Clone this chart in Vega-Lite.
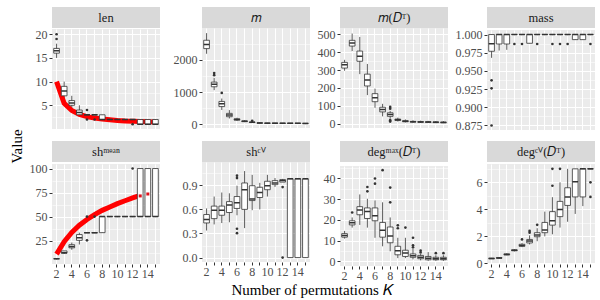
{
"$schema": "https://vega.github.io/schema/vega-lite/v6.json",
"padding": {"left": 10, "top": 7, "right": 2, "bottom": 2},
"background": "white",
"config": {
  "view": {"fill": "#EBEBEB", "stroke": null},
  "axis": {"labelFont": "Liberation Serif", "labelFontSize": 12, "labelColor": "#4D4D4D", "tickColor": "#333333", "tickSize": 3, "domain": false, "gridColor": "#FFFFFF", "labelPadding": 2, "labelOverlap": false},
  "title": {"font": "Liberation Serif", "fontSize": 15, "fontWeight": "normal", "color": "#000000", "anchor": "middle"}
},
"datasets": {
  "box": [
    {"p":"len","K":2,"lo":15,"q1":16,"md":16.5,"q3":17,"hi":18},
    {"p":"len","K":3,"lo":6,"q1":7,"md":8,"q3":9,"hi":10},
    {"p":"len","K":4,"lo":4,"q1":5,"md":5.5,"q3":6,"hi":7},
    {"p":"len","K":5,"lo":3,"q1":3,"md":3.5,"q3":4,"hi":5},
    {"p":"len","K":6,"lo":3,"q1":3,"md":3,"q3":3,"hi":3},
    {"p":"len","K":7,"lo":3,"q1":3,"md":3,"q3":3,"hi":3},
    {"p":"len","K":8,"lo":2,"q1":2,"md":2,"q3":3,"hi":3},
    {"p":"len","K":9,"lo":2,"q1":2,"md":2,"q3":2,"hi":2},
    {"p":"len","K":10,"lo":2,"q1":2,"md":2,"q3":2,"hi":2},
    {"p":"len","K":11,"lo":2,"q1":2,"md":2,"q3":2,"hi":2},
    {"p":"len","K":12,"lo":2,"q1":2,"md":2,"q3":2,"hi":2},
    {"p":"len","K":13,"lo":1,"q1":1,"md":1,"q3":2,"hi":2},
    {"p":"len","K":14,"lo":1,"q1":1,"md":1,"q3":2,"hi":2},
    {"p":"len","K":15,"lo":1,"q1":1,"md":1,"q3":2,"hi":2},

    {"p":"m","K":2,"lo":2190,"q1":2350,"md":2475,"q3":2610,"hi":2830},
    {"p":"m","K":3,"lo":1060,"q1":1165,"md":1240,"q3":1310,"hi":1440},
    {"p":"m","K":4,"lo":445,"q1":550,"md":635,"q3":710,"hi":800},
    {"p":"m","K":5,"lo":180,"q1":235,"md":285,"q3":340,"hi":440},
    {"p":"m","K":6,"lo":105,"q1":130,"md":150,"q3":170,"hi":205},
    {"p":"m","K":7,"lo":65,"q1":82,"md":95,"q3":105,"hi":128},
    {"p":"m","K":8,"lo":42,"q1":55,"md":62,"q3":70,"hi":88},
    {"p":"m","K":9,"lo":30,"q1":36,"md":40,"q3":44,"hi":52},
    {"p":"m","K":10,"lo":26,"q1":31,"md":35,"q3":38,"hi":45},
    {"p":"m","K":11,"lo":24,"q1":29,"md":33,"q3":36,"hi":42},
    {"p":"m","K":12,"lo":22,"q1":28,"md":31,"q3":34,"hi":40},
    {"p":"m","K":13,"lo":21,"q1":27,"md":30,"q3":33,"hi":38},
    {"p":"m","K":14,"lo":20,"q1":26,"md":29,"q3":32,"hi":37},
    {"p":"m","K":15,"lo":20,"q1":25,"md":28,"q3":31,"hi":36},

    {"p":"mdt","K":2,"lo":296,"q1":311,"md":330,"q3":343,"hi":357},
    {"p":"mdt","K":3,"lo":406,"q1":434,"md":451,"q3":466,"hi":504},
    {"p":"mdt","K":4,"lo":277,"q1":349,"md":377,"q3":406,"hi":485},
    {"p":"mdt","K":5,"lo":160,"q1":211,"md":245,"q3":277,"hi":334},
    {"p":"mdt","K":6,"lo":89,"q1":123,"md":145,"q3":168,"hi":196},
    {"p":"mdt","K":7,"lo":41,"q1":66,"md":79,"q3":92,"hi":111},
    {"p":"mdt","K":8,"lo":28,"q1":41,"md":51,"q3":61,"hi":72},
    {"p":"mdt","K":9,"lo":12,"q1":18,"md":22,"q3":26,"hi":34},
    {"p":"mdt","K":10,"lo":7,"q1":11,"md":14,"q3":17,"hi":24},
    {"p":"mdt","K":11,"lo":5,"q1":9,"md":11,"q3":13,"hi":19},
    {"p":"mdt","K":12,"lo":4,"q1":8,"md":10,"q3":12,"hi":17},
    {"p":"mdt","K":13,"lo":4,"q1":7,"md":9,"q3":11,"hi":16},
    {"p":"mdt","K":14,"lo":3,"q1":6,"md":8,"q3":10,"hi":15},
    {"p":"mdt","K":15,"lo":3,"q1":6,"md":7,"q3":9,"hi":14},

    {"p":"mass","K":2,"lo":0.968,"q1":0.977,"md":0.9875,"q3":1.0,"hi":1.0},
    {"p":"mass","K":3,"lo":0.978,"q1":0.987,"md":1.0,"q3":1.0,"hi":1.0},
    {"p":"mass","K":4,"lo":0.979,"q1":0.987,"md":1.0,"q3":1.0,"hi":1.0},
    {"p":"mass","K":5,"lo":1.0,"q1":1.0,"md":1.0,"q3":1.0,"hi":1.0},
    {"p":"mass","K":6,"lo":1.0,"q1":1.0,"md":1.0,"q3":1.0,"hi":1.0},
    {"p":"mass","K":7,"lo":0.988,"q1":0.988,"md":1.0,"q3":1.0,"hi":1.0},
    {"p":"mass","K":8,"lo":1.0,"q1":1.0,"md":1.0,"q3":1.0,"hi":1.0},
    {"p":"mass","K":9,"lo":1.0,"q1":1.0,"md":1.0,"q3":1.0,"hi":1.0},
    {"p":"mass","K":10,"lo":1.0,"q1":1.0,"md":1.0,"q3":1.0,"hi":1.0},
    {"p":"mass","K":11,"lo":1.0,"q1":1.0,"md":1.0,"q3":1.0,"hi":1.0},
    {"p":"mass","K":12,"lo":1.0,"q1":1.0,"md":1.0,"q3":1.0,"hi":1.0},
    {"p":"mass","K":13,"lo":0.993,"q1":0.993,"md":1.0,"q3":1.0,"hi":1.0},
    {"p":"mass","K":14,"lo":0.993,"q1":0.993,"md":1.0,"q3":1.0,"hi":1.0},
    {"p":"mass","K":15,"lo":1.0,"q1":1.0,"md":1.0,"q3":1.0,"hi":1.0},

    {"p":"shmean","K":2,"lo":5.4,"q1":6.25,"md":6.25,"q3":6.25,"hi":6.25},
    {"p":"shmean","K":3,"lo":11.1,"q1":11.9,"md":12.5,"q3":14.3,"hi":14.3},
    {"p":"shmean","K":4,"lo":15.5,"q1":17.5,"md":19,"q3":20.8,"hi":23},
    {"p":"shmean","K":5,"lo":21,"q1":25.3,"md":28,"q3":31.3,"hi":33.3},
    {"p":"shmean","K":6,"lo":33.3,"q1":33.3,"md":33.3,"q3":33.3,"hi":33.3},
    {"p":"shmean","K":7,"lo":33.3,"q1":33.3,"md":33.3,"q3":33.3,"hi":33.3},
    {"p":"shmean","K":8,"lo":33.3,"q1":33.3,"md":50,"q3":50,"hi":50},
    {"p":"shmean","K":9,"lo":50,"q1":50,"md":50,"q3":50,"hi":50},
    {"p":"shmean","K":10,"lo":50,"q1":50,"md":50,"q3":50,"hi":50},
    {"p":"shmean","K":11,"lo":50,"q1":50,"md":50,"q3":50,"hi":50},
    {"p":"shmean","K":12,"lo":50,"q1":50,"md":50,"q3":50,"hi":50},
    {"p":"shmean","K":13,"lo":50,"q1":50,"md":50,"q3":100,"hi":100},
    {"p":"shmean","K":14,"lo":50,"q1":50,"md":50,"q3":100,"hi":100},
    {"p":"shmean","K":15,"lo":50,"q1":50,"md":50,"q3":100,"hi":100},

    {"p":"shcv","K":2,"lo":0.337,"q1":0.431,"md":0.473,"q3":0.536,"hi":0.612},
    {"p":"shcv","K":3,"lo":0.413,"q1":0.485,"md":0.59,"q3":0.641,"hi":0.76},
    {"p":"shcv","K":4,"lo":0.43,"q1":0.527,"md":0.59,"q3":0.641,"hi":0.81},
    {"p":"shcv","K":5,"lo":0.44,"q1":0.561,"md":0.654,"q3":0.697,"hi":0.8},
    {"p":"shcv","K":6,"lo":0.527,"q1":0.612,"md":0.684,"q3":0.76,"hi":0.895},
    {"p":"shcv","K":7,"lo":0.367,"q1":0.6,"md":0.844,"q3":0.929,"hi":1.077},
    {"p":"shcv","K":8,"lo":0.59,"q1":0.71,"md":0.73,"q3":0.895,"hi":1.03},
    {"p":"shcv","K":9,"lo":0.6,"q1":0.748,"md":0.81,"q3":0.875,"hi":0.93},
    {"p":"shcv","K":10,"lo":0.76,"q1":0.845,"md":0.895,"q3":0.95,"hi":1.03},
    {"p":"shcv","K":11,"lo":0.88,"q1":0.908,"md":0.93,"q3":0.958,"hi":0.99},
    {"p":"shcv","K":12,"lo":0.94,"q1":0.94,"md":0.96,"q3":0.97,"hi":0.98},
    {"p":"shcv","K":13,"lo":0,"q1":0,"md":0.98,"q3":0.98,"hi":0.98},
    {"p":"shcv","K":14,"lo":0,"q1":0,"md":0.98,"q3":0.98,"hi":0.98},
    {"p":"shcv","K":15,"lo":0,"q1":0,"md":0.98,"q3":0.98,"hi":0.98},

    {"p":"degmax","K":2,"lo":11,"q1":11.7,"md":12.5,"q3":13.4,"hi":14.7},
    {"p":"degmax","K":3,"lo":16.3,"q1":17.6,"md":18.6,"q3":19.6,"hi":21.2},
    {"p":"degmax","K":4,"lo":17.6,"q1":22.5,"md":24.8,"q3":26.4,"hi":32.3},
    {"p":"degmax","K":5,"lo":16.3,"q1":20.7,"md":24.1,"q3":25.8,"hi":30.2},
    {"p":"degmax","K":6,"lo":11.4,"q1":19.6,"md":22,"q3":25.8,"hi":29.4},
    {"p":"degmax","K":7,"lo":7.3,"q1":11.7,"md":15,"q3":18.8,"hi":28.5},
    {"p":"degmax","K":8,"lo":4.9,"q1":9,"md":12.2,"q3":16.6,"hi":21.2},
    {"p":"degmax","K":9,"lo":1.6,"q1":3.2,"md":5.2,"q3":7.3,"hi":11.4},
    {"p":"degmax","K":10,"lo":1.6,"q1":2.4,"md":4.1,"q3":5.4,"hi":11.4},
    {"p":"degmax","K":11,"lo":1,"q1":2,"md":2.8,"q3":3.6,"hi":6},
    {"p":"degmax","K":12,"lo":0.5,"q1":1.3,"md":2,"q3":2.9,"hi":3.6},
    {"p":"degmax","K":13,"lo":0.3,"q1":0.8,"md":1.5,"q3":2.4,"hi":4.5},
    {"p":"degmax","K":14,"lo":0.3,"q1":0.8,"md":1.3,"q3":2,"hi":3},
    {"p":"degmax","K":15,"lo":0.3,"q1":0.8,"md":1.3,"q3":2,"hi":3},

    {"p":"degcv","K":2,"lo":0.33,"q1":0.34,"md":0.36,"q3":0.38,"hi":0.4},
    {"p":"degcv","K":3,"lo":0.37,"q1":0.38,"md":0.4,"q3":0.42,"hi":0.44},
    {"p":"degcv","K":4,"lo":0.6,"q1":0.63,"md":0.66,"q3":0.7,"hi":0.74},
    {"p":"degcv","K":5,"lo":0.88,"q1":0.93,"md":0.96,"q3":1.0,"hi":1.05},
    {"p":"degcv","K":6,"lo":1.2,"q1":1.26,"md":1.33,"q3":1.41,"hi":1.5},
    {"p":"degcv","K":7,"lo":1.4,"q1":1.51,"md":1.65,"q3":1.77,"hi":2.07},
    {"p":"degcv","K":8,"lo":1.64,"q1":1.97,"md":2.1,"q3":2.27,"hi":2.6},
    {"p":"degcv","K":9,"lo":2.0,"q1":2.27,"md":2.47,"q3":3.03,"hi":3.83},
    {"p":"degcv","K":10,"lo":2.15,"q1":2.83,"md":3.15,"q3":3.83,"hi":4.9},
    {"p":"degcv","K":11,"lo":2.65,"q1":3.46,"md":3.99,"q3":4.59,"hi":6.0},
    {"p":"degcv","K":12,"lo":3.08,"q1":4.29,"md":4.92,"q3":5.6,"hi":7.0},
    {"p":"degcv","K":13,"lo":3.66,"q1":4.92,"md":6.05,"q3":7.0,"hi":7.0},
    {"p":"degcv","K":14,"lo":4.24,"q1":4.92,"md":7.0,"q3":7.0,"hi":7.0},
    {"p":"degcv","K":15,"lo":7.0,"q1":7.0,"md":7.0,"q3":7.0,"hi":7.0}
  ],
  "out": [
    {"p":"len","K":2,"v":19},{"p":"len","K":2,"v":20},{"p":"len","K":6,"v":4},{"p":"len","K":6,"v":2},{"p":"len","K":7,"v":2},{"p":"len","K":12,"v":1},
    {"p":"m","K":3,"v":1525},{"p":"m","K":3,"v":1590},{"p":"m","K":4,"v":975},{"p":"m","K":8,"v":108},
    {"p":"mdt","K":8,"v":94},{"p":"mdt","K":8,"v":84},{"p":"mdt","K":8,"v":20},{"p":"mdt","K":8,"v":12},
    {"p":"mass","K":2,"v":0.937},{"p":"mass","K":2,"v":0.926},{"p":"mass","K":2,"v":0.875},{"p":"mass","K":5,"v":0.987},{"p":"mass","K":6,"v":0.987},{"p":"mass","K":8,"v":0.987},{"p":"mass","K":10,"v":0.987},{"p":"mass","K":11,"v":0.987},{"p":"mass","K":12,"v":0.987},{"p":"mass","K":15,"v":0.987},
    {"p":"shmean","K":6,"v":50},{"p":"shmean","K":6,"v":25.3},{"p":"shmean","K":7,"v":50},{"p":"shmean","K":12,"v":100},
    {"p":"shcv","K":6,"v":1.02},{"p":"shcv","K":6,"v":0.99},{"p":"shcv","K":6,"v":0.359},{"p":"shcv","K":6,"v":0.304},{"p":"shcv","K":12,"v":0.878},{"p":"shcv","K":12,"v":0.0},
    {"p":"degmax","K":3,"v":23.6},{"p":"degmax","K":5,"v":35.9},{"p":"degmax","K":5,"v":33.8},{"p":"degmax","K":6,"v":40},{"p":"degmax","K":6,"v":37.5},{"p":"degmax","K":7,"v":44},{"p":"degmax","K":8,"v":35.6},{"p":"degmax","K":8,"v":28.5},{"p":"degmax","K":9,"v":17.4},{"p":"degmax","K":9,"v":16},{"p":"degmax","K":10,"v":16.3},{"p":"degmax","K":11,"v":11.4},{"p":"degmax","K":11,"v":7.8},{"p":"degmax","K":11,"v":6.8},{"p":"degmax","K":12,"v":5.2},{"p":"degmax","K":12,"v":4.3},{"p":"degmax","K":14,"v":4},{"p":"degmax","K":15,"v":4},
    {"p":"degcv","K":6,"v":1.77},{"p":"degcv","K":7,"v":2.27},{"p":"degcv","K":7,"v":2.4},{"p":"degcv","K":8,"v":2.85},{"p":"degcv","K":10,"v":5.75},{"p":"degcv","K":10,"v":7.0},{"p":"degcv","K":11,"v":7.0},{"p":"degcv","K":15,"v":6.0},{"p":"degcv","K":15,"v":4.92}
  ],
  "curve": [
    {"p":"len","K":2,"v":10},{"p":"len","K":3,"v":5.4},{"p":"len","K":4,"v":3.9},{"p":"len","K":5,"v":3.1},{"p":"len","K":6,"v":2.6},{"p":"len","K":7,"v":2.3},{"p":"len","K":8,"v":2.1},{"p":"len","K":9,"v":1.95},{"p":"len","K":10,"v":1.8},{"p":"len","K":11,"v":1.7},{"p":"len","K":12,"v":1.65},{"p":"len","K":13,"v":1.6},{"p":"len","K":14,"v":1.55},{"p":"len","K":15,"v":1.5},
    {"p":"shmean","K":2,"v":11},{"p":"shmean","K":3,"v":24},{"p":"shmean","K":4,"v":33.5},{"p":"shmean","K":5,"v":41},{"p":"shmean","K":6,"v":47},{"p":"shmean","K":7,"v":52},{"p":"shmean","K":8,"v":56.5},{"p":"shmean","K":9,"v":60},{"p":"shmean","K":10,"v":63.5},{"p":"shmean","K":11,"v":66.5},{"p":"shmean","K":12,"v":69.5},{"p":"shmean","K":13,"v":72}
  ],
  "bits": [
    {"p":"shmean","K":13,"v":71.5},{"p":"shmean","K":14,"v":73.5}
  ]
},
"title": {"text": "Value", "orient": "left", "offset": 4, "anchor": "middle", "dx": 6},
"vconcat": [{
  "title": {"text": "Number of permutations 𝐾", "orient": "bottom", "offset": 2, "anchor": "middle"},
  "columns": 4,
  "spacing": {"row": 9, "column": 7},
  "concat": [
    {"spacing": 0, "vconcat": [
      {"width":108,"height":21,"view":{"fill":"#D9D9D9","stroke":null},"data":{"values":[{"label":"len"}]},"mark":{"type":"text","font":"Liberation Serif","fontSize":12.5,"color":"#1A1A1A"},"encoding":{"text":{"field":"label"}}},
      {"width":108,"height":100,
       "encoding":{"x":{"field":"K","type":"ordinal","title":null,"scale":{"type":"band","domain":[2,3,4,5,6,7,8,9,10,11,12,13,14,15],"paddingInner":0,"paddingOuter":0.1},"axis":{"labels":false,"ticks":false,"grid":true,"gridWidth":1,"bandPosition":0.5}}},
       "layer":[
        {"data":{"name":"box"},"transform":[{"filter":"datum.p === 'len'"}],"mark":{"type":"rule","color":"#333333","strokeWidth":0.8},"encoding":{"y":{"field":"lo","type":"quantitative","title":null,"scale":{"domain":[0,21.1],"nice":false,"zero":false},"axis":{"tickCount":50,"labelOverlap":false,"format":"d","values":[2.5,5,7.5,10,12.5,15,17.5,20],"labelExpr":"abs(datum.value/5 - round(datum.value/5)) < 1e-6 ? datum.label : ''","gridWidth":{"condition":{"test":"abs(datum.value/5 - round(datum.value/5)) < 1e-6","value":1},"value":0.5},"tickOpacity":{"condition":{"test":"abs(datum.value/5 - round(datum.value/5)) < 1e-6","value":1},"value":0}}},"y2":{"field":"hi"}}},
        {"data":{"name":"curve"},"transform":[{"filter":"datum.p === 'len'"}],"mark":{"type":"line","color":"#FF0000","strokeWidth":5},"encoding":{"y":{"field":"v","type":"quantitative","title":null,"scale":{"domain":[0,21.1],"nice":false,"zero":false}}}},
        {"data":{"name":"box"},"transform":[{"filter":"datum.p === 'len'"}],"mark":{"type":"bar","fill":"#FFFFFF","stroke":"#333333","strokeWidth":0.8,"width":{"band":0.75}},"encoding":{"y":{"field":"q1","type":"quantitative","title":null,"scale":{"domain":[0,21.1],"nice":false,"zero":false}},"y2":{"field":"q3"}}},
        {"data":{"name":"box"},"transform":[{"filter":"datum.p === 'len'"}],"mark":{"type":"bar","fillOpacity":0,"stroke":"#333333","strokeWidth":1.5,"width":{"band":0.75}},"encoding":{"y":{"field":"md","type":"quantitative","title":null,"scale":{"domain":[0,21.1],"nice":false,"zero":false}},"y2":{"field":"md"}}},
        {"data":{"name":"out"},"transform":[{"filter":"datum.p === 'len'"}],"mark":{"type":"point","filled":true,"size":7,"color":"#333333","opacity":1},"encoding":{"y":{"field":"v","type":"quantitative","title":null,"scale":{"domain":[0,21.1],"nice":false,"zero":false}}}}
       ]}
    ]},
    {"spacing": 0, "vconcat": [
      {"width":108,"height":21,"view":{"fill":"#D9D9D9","stroke":null},"data":{"values":[{"label":"𝑚"}]},"mark":{"type":"text","font":"Liberation Serif","fontSize":12.5,"color":"#1A1A1A"},"encoding":{"text":{"field":"label"}}},
      {"width":108,"height":100,
       "encoding":{"x":{"field":"K","type":"ordinal","title":null,"scale":{"type":"band","domain":[2,3,4,5,6,7,8,9,10,11,12,13,14,15],"paddingInner":0,"paddingOuter":0.1},"axis":{"labels":false,"ticks":false,"grid":true,"gridWidth":1,"bandPosition":0.5}}},
       "layer":[
        {"data":{"name":"box"},"transform":[{"filter":"datum.p === 'm'"}],"mark":{"type":"rule","color":"#333333","strokeWidth":0.8},"encoding":{"y":{"field":"lo","type":"quantitative","title":null,"scale":{"domain":[-115,2990],"nice":false,"zero":false},"axis":{"tickCount":50,"labelOverlap":false,"values":[0,500,1000,1500,2000,2500],"format":"d","labelExpr":"abs(datum.value/1000 - round(datum.value/1000)) < 1e-6 ? datum.label : ''","gridWidth":{"condition":{"test":"abs(datum.value/1000 - round(datum.value/1000)) < 1e-6","value":1},"value":0.5},"tickOpacity":{"condition":{"test":"abs(datum.value/1000 - round(datum.value/1000)) < 1e-6","value":1},"value":0}}},"y2":{"field":"hi"}}},
        {"data":{"name":"box"},"transform":[{"filter":"datum.p === 'm'"}],"mark":{"type":"bar","fill":"#FFFFFF","stroke":"#333333","strokeWidth":0.8,"width":{"band":0.75}},"encoding":{"y":{"field":"q1","type":"quantitative","title":null,"scale":{"domain":[-115,2990],"nice":false,"zero":false}},"y2":{"field":"q3"}}},
        {"data":{"name":"box"},"transform":[{"filter":"datum.p === 'm'"}],"mark":{"type":"bar","fillOpacity":0,"stroke":"#333333","strokeWidth":1.5,"width":{"band":0.75}},"encoding":{"y":{"field":"md","type":"quantitative","title":null,"scale":{"domain":[-115,2990],"nice":false,"zero":false}},"y2":{"field":"md"}}},
        {"data":{"name":"out"},"transform":[{"filter":"datum.p === 'm'"}],"mark":{"type":"point","filled":true,"size":7,"color":"#333333","opacity":1},"encoding":{"y":{"field":"v","type":"quantitative","title":null,"scale":{"domain":[-115,2990],"nice":false,"zero":false}}}}
       ]}
    ]},
    {"spacing": 0, "vconcat": [
      {"width":108,"height":21,"view":{"fill":"#D9D9D9","stroke":null},"data":{"values":[{"label":"𝑚(𝐷ᵀ)"}]},"mark":{"type":"text","font":"Liberation Serif","fontSize":12.5,"color":"#1A1A1A"},"encoding":{"text":{"field":"label"}}},
      {"width":108,"height":100,
       "encoding":{"x":{"field":"K","type":"ordinal","title":null,"scale":{"type":"band","domain":[2,3,4,5,6,7,8,9,10,11,12,13,14,15],"paddingInner":0,"paddingOuter":0.1},"axis":{"labels":false,"ticks":false,"grid":true,"gridWidth":1,"bandPosition":0.5}}},
       "layer":[
        {"data":{"name":"box"},"transform":[{"filter":"datum.p === 'mdt'"}],"mark":{"type":"rule","color":"#333333","strokeWidth":0.8},"encoding":{"y":{"field":"lo","type":"quantitative","title":null,"scale":{"domain":[-24,535],"nice":false,"zero":false},"axis":{"tickCount":50,"labelOverlap":false,"values":[0,50,100,150,200,250,300,350,400,450,500],"format":"d","labelExpr":"abs(datum.value/100 - round(datum.value/100)) < 1e-6 ? datum.label : ''","gridWidth":{"condition":{"test":"abs(datum.value/100 - round(datum.value/100)) < 1e-6","value":1},"value":0.5},"tickOpacity":{"condition":{"test":"abs(datum.value/100 - round(datum.value/100)) < 1e-6","value":1},"value":0}}},"y2":{"field":"hi"}}},
        {"data":{"name":"box"},"transform":[{"filter":"datum.p === 'mdt'"}],"mark":{"type":"bar","fill":"#FFFFFF","stroke":"#333333","strokeWidth":0.8,"width":{"band":0.75}},"encoding":{"y":{"field":"q1","type":"quantitative","title":null,"scale":{"domain":[-24,535],"nice":false,"zero":false}},"y2":{"field":"q3"}}},
        {"data":{"name":"box"},"transform":[{"filter":"datum.p === 'mdt'"}],"mark":{"type":"bar","fillOpacity":0,"stroke":"#333333","strokeWidth":1.5,"width":{"band":0.75}},"encoding":{"y":{"field":"md","type":"quantitative","title":null,"scale":{"domain":[-24,535],"nice":false,"zero":false}},"y2":{"field":"md"}}},
        {"data":{"name":"out"},"transform":[{"filter":"datum.p === 'mdt'"}],"mark":{"type":"point","filled":true,"size":7,"color":"#333333","opacity":1},"encoding":{"y":{"field":"v","type":"quantitative","title":null,"scale":{"domain":[-24,535],"nice":false,"zero":false}}}}
       ]}
    ]},
    {"spacing": 0, "vconcat": [
      {"width":108,"height":21,"view":{"fill":"#D9D9D9","stroke":null},"data":{"values":[{"label":"mass"}]},"mark":{"type":"text","font":"Liberation Serif","fontSize":12.5,"color":"#1A1A1A"},"encoding":{"text":{"field":"label"}}},
      {"width":108,"height":100,
       "encoding":{"x":{"field":"K","type":"ordinal","title":null,"scale":{"type":"band","domain":[2,3,4,5,6,7,8,9,10,11,12,13,14,15],"paddingInner":0,"paddingOuter":0.1},"axis":{"labels":false,"ticks":false,"grid":true,"gridWidth":1,"bandPosition":0.5}}},
       "layer":[
        {"data":{"name":"box"},"transform":[{"filter":"datum.p === 'mass'"}],"mark":{"type":"rule","color":"#333333","strokeWidth":0.8},"encoding":{"y":{"field":"lo","type":"quantitative","title":null,"scale":{"domain":[0.86875,1.00625],"nice":false,"zero":false},"axis":{"tickCount":50,"labelOverlap":false,"values":[0.875,0.8875,0.9,0.9125,0.925,0.9375,0.95,0.9625,0.975,0.9875,1.0],"format":".3f","labelExpr":"abs(datum.value/0.025 - round(datum.value/0.025)) < 1e-6 ? datum.label : ''","gridWidth":{"condition":{"test":"abs(datum.value/0.025 - round(datum.value/0.025)) < 1e-6","value":1},"value":0.5},"tickOpacity":{"condition":{"test":"abs(datum.value/0.025 - round(datum.value/0.025)) < 1e-6","value":1},"value":0}}},"y2":{"field":"hi"}}},
        {"data":{"name":"box"},"transform":[{"filter":"datum.p === 'mass'"}],"mark":{"type":"bar","fill":"#FFFFFF","stroke":"#333333","strokeWidth":0.8,"width":{"band":0.75}},"encoding":{"y":{"field":"q1","type":"quantitative","title":null,"scale":{"domain":[0.86875,1.00625],"nice":false,"zero":false}},"y2":{"field":"q3"}}},
        {"data":{"name":"box"},"transform":[{"filter":"datum.p === 'mass'"}],"mark":{"type":"bar","fillOpacity":0,"stroke":"#333333","strokeWidth":1.5,"width":{"band":0.75}},"encoding":{"y":{"field":"md","type":"quantitative","title":null,"scale":{"domain":[0.86875,1.00625],"nice":false,"zero":false}},"y2":{"field":"md"}}},
        {"data":{"name":"out"},"transform":[{"filter":"datum.p === 'mass'"}],"mark":{"type":"point","filled":true,"size":7,"color":"#333333","opacity":1},"encoding":{"y":{"field":"v","type":"quantitative","title":null,"scale":{"domain":[0.86875,1.00625],"nice":false,"zero":false}}}}
       ]}
    ]},
    {"spacing": 0, "vconcat": [
      {"width":108,"height":21,"view":{"fill":"#D9D9D9","stroke":null},"data":{"values":[{"label":"shᵐᵉᵃⁿ"}]},"mark":{"type":"text","font":"Liberation Serif","fontSize":12.5,"color":"#1A1A1A"},"encoding":{"text":{"field":"label"}}},
      {"width":108,"height":100,
       "encoding":{"x":{"field":"K","type":"ordinal","title":null,"scale":{"type":"band","domain":[2,3,4,5,6,7,8,9,10,11,12,13,14,15],"paddingInner":0,"paddingOuter":0.1},"axis":{"labelOverlap":false,"labelExpr":"datum.value % 2 === 0 ? datum.label : ''","grid":true,"gridWidth":1,"bandPosition":0.5,"labelAngle":0,"labelPadding":1}}},
       "layer":[
        {"data":{"name":"box"},"transform":[{"filter":"datum.p === 'shmean'"}],"mark":{"type":"rule","color":"#333333","strokeWidth":0.8},"encoding":{"y":{"field":"lo","type":"quantitative","title":null,"scale":{"domain":[0.7,104.7],"nice":false,"zero":false},"axis":{"tickCount":50,"labelOverlap":false,"format":"d","values":[12.5,25,37.5,50,62.5,75,87.5,100],"labelExpr":"abs(datum.value/25 - round(datum.value/25)) < 1e-6 ? datum.label : ''","gridWidth":{"condition":{"test":"abs(datum.value/25 - round(datum.value/25)) < 1e-6","value":1},"value":0.5},"tickOpacity":{"condition":{"test":"abs(datum.value/25 - round(datum.value/25)) < 1e-6","value":1},"value":0}}},"y2":{"field":"hi"}}},
        {"data":{"name":"curve"},"transform":[{"filter":"datum.p === 'shmean'"}],"mark":{"type":"line","color":"#FF0000","strokeWidth":5},"encoding":{"y":{"field":"v","type":"quantitative","title":null,"scale":{"domain":[0.7,104.7],"nice":false,"zero":false}}}},
        {"data":{"name":"box"},"transform":[{"filter":"datum.p === 'shmean'"}],"mark":{"type":"bar","fill":"#FFFFFF","stroke":"#333333","strokeWidth":0.8,"width":{"band":0.75}},"encoding":{"y":{"field":"q1","type":"quantitative","title":null,"scale":{"domain":[0.7,104.7],"nice":false,"zero":false}},"y2":{"field":"q3"}}},
        {"data":{"name":"box"},"transform":[{"filter":"datum.p === 'shmean'"}],"mark":{"type":"bar","fillOpacity":0,"stroke":"#333333","strokeWidth":1.5,"width":{"band":0.75}},"encoding":{"y":{"field":"md","type":"quantitative","title":null,"scale":{"domain":[0.7,104.7],"nice":false,"zero":false}},"y2":{"field":"md"}}},
        {"data":{"name":"bits"},"transform":[{"filter":"datum.p === 'shmean'"}],"mark":{"type":"point","shape":"square","filled":true,"size":9,"color":"#E0101A","opacity":1},"encoding":{"y":{"field":"v","type":"quantitative","title":null,"scale":{"domain":[0.7,104.7],"nice":false,"zero":false}}}},
        {"data":{"name":"out"},"transform":[{"filter":"datum.p === 'shmean'"}],"mark":{"type":"point","filled":true,"size":7,"color":"#333333","opacity":1},"encoding":{"y":{"field":"v","type":"quantitative","title":null,"scale":{"domain":[0.7,104.7],"nice":false,"zero":false}}}}
       ]}
    ]},
    {"spacing": 0, "vconcat": [
      {"width":108,"height":21,"view":{"fill":"#D9D9D9","stroke":null},"data":{"values":[{"label":"shᶜⱽ"}]},"mark":{"type":"text","font":"Liberation Serif","fontSize":12.5,"color":"#1A1A1A"},"encoding":{"text":{"field":"label"}}},
      {"width":108,"height":100,
       "encoding":{"x":{"field":"K","type":"ordinal","title":null,"scale":{"type":"band","domain":[2,3,4,5,6,7,8,9,10,11,12,13,14,15],"paddingInner":0,"paddingOuter":0.1},"axis":{"labelOverlap":false,"labelExpr":"datum.value % 2 === 0 ? datum.label : ''","grid":true,"gridWidth":1,"bandPosition":0.5,"labelAngle":0,"labelPadding":1}}},
       "layer":[
        {"data":{"name":"box"},"transform":[{"filter":"datum.p === 'shcv'"}],"mark":{"type":"rule","color":"#333333","strokeWidth":0.8},"encoding":{"y":{"field":"lo","type":"quantitative","title":null,"scale":{"domain":[-0.055,1.19],"nice":false,"zero":false},"axis":{"tickCount":50,"labelOverlap":false,"values":[0,0.15,0.3,0.45,0.6,0.75,0.9,1.05],"format":".1f","labelExpr":"abs(datum.value/0.3 - round(datum.value/0.3)) < 1e-6 ? datum.label : ''","gridWidth":{"condition":{"test":"abs(datum.value/0.3 - round(datum.value/0.3)) < 1e-6","value":1},"value":0.5},"tickOpacity":{"condition":{"test":"abs(datum.value/0.3 - round(datum.value/0.3)) < 1e-6","value":1},"value":0}}},"y2":{"field":"hi"}}},
        {"data":{"name":"box"},"transform":[{"filter":"datum.p === 'shcv'"}],"mark":{"type":"bar","fill":"#FFFFFF","stroke":"#333333","strokeWidth":0.8,"width":{"band":0.75}},"encoding":{"y":{"field":"q1","type":"quantitative","title":null,"scale":{"domain":[-0.055,1.19],"nice":false,"zero":false}},"y2":{"field":"q3"}}},
        {"data":{"name":"box"},"transform":[{"filter":"datum.p === 'shcv'"}],"mark":{"type":"bar","fillOpacity":0,"stroke":"#333333","strokeWidth":1.5,"width":{"band":0.75}},"encoding":{"y":{"field":"md","type":"quantitative","title":null,"scale":{"domain":[-0.055,1.19],"nice":false,"zero":false}},"y2":{"field":"md"}}},
        {"data":{"name":"out"},"transform":[{"filter":"datum.p === 'shcv'"}],"mark":{"type":"point","filled":true,"size":7,"color":"#333333","opacity":1},"encoding":{"y":{"field":"v","type":"quantitative","title":null,"scale":{"domain":[-0.055,1.19],"nice":false,"zero":false}}}}
       ]}
    ]},
    {"spacing": 0, "vconcat": [
      {"width":108,"height":21,"view":{"fill":"#D9D9D9","stroke":null},"data":{"values":[{"label":"degᵐᵃˣ(𝐷ᵀ)"}]},"mark":{"type":"text","font":"Liberation Serif","fontSize":12.5,"color":"#1A1A1A"},"encoding":{"text":{"field":"label"}}},
      {"width":108,"height":100,
       "encoding":{"x":{"field":"K","type":"ordinal","title":null,"scale":{"type":"band","domain":[2,3,4,5,6,7,8,9,10,11,12,13,14,15],"paddingInner":0,"paddingOuter":0.1},"axis":{"labelOverlap":false,"labelExpr":"datum.value % 2 === 0 ? datum.label : ''","grid":true,"gridWidth":1,"bandPosition":0.5,"labelAngle":0,"labelPadding":1}}},
       "layer":[
        {"data":{"name":"box"},"transform":[{"filter":"datum.p === 'degmax'"}],"mark":{"type":"rule","color":"#333333","strokeWidth":0.8},"encoding":{"y":{"field":"lo","type":"quantitative","title":null,"scale":{"domain":[-2.2,46],"nice":false,"zero":false},"axis":{"tickCount":50,"labelOverlap":false,"format":"d","values":[0,5,10,15,20,25,30,35,40,45],"labelExpr":"abs(datum.value/10 - round(datum.value/10)) < 1e-6 ? datum.label : ''","gridWidth":{"condition":{"test":"abs(datum.value/10 - round(datum.value/10)) < 1e-6","value":1},"value":0.5},"tickOpacity":{"condition":{"test":"abs(datum.value/10 - round(datum.value/10)) < 1e-6","value":1},"value":0}}},"y2":{"field":"hi"}}},
        {"data":{"name":"box"},"transform":[{"filter":"datum.p === 'degmax'"}],"mark":{"type":"bar","fill":"#FFFFFF","stroke":"#333333","strokeWidth":0.8,"width":{"band":0.75}},"encoding":{"y":{"field":"q1","type":"quantitative","title":null,"scale":{"domain":[-2.2,46],"nice":false,"zero":false}},"y2":{"field":"q3"}}},
        {"data":{"name":"box"},"transform":[{"filter":"datum.p === 'degmax'"}],"mark":{"type":"bar","fillOpacity":0,"stroke":"#333333","strokeWidth":1.5,"width":{"band":0.75}},"encoding":{"y":{"field":"md","type":"quantitative","title":null,"scale":{"domain":[-2.2,46],"nice":false,"zero":false}},"y2":{"field":"md"}}},
        {"data":{"name":"out"},"transform":[{"filter":"datum.p === 'degmax'"}],"mark":{"type":"point","filled":true,"size":7,"color":"#333333","opacity":1},"encoding":{"y":{"field":"v","type":"quantitative","title":null,"scale":{"domain":[-2.2,46],"nice":false,"zero":false}}}}
       ]}
    ]},
    {"spacing": 0, "vconcat": [
      {"width":108,"height":21,"view":{"fill":"#D9D9D9","stroke":null},"data":{"values":[{"label":"degᶜⱽ(𝐷ᵀ)"}]},"mark":{"type":"text","font":"Liberation Serif","fontSize":12.5,"color":"#1A1A1A"},"encoding":{"text":{"field":"label"}}},
      {"width":108,"height":100,
       "encoding":{"x":{"field":"K","type":"ordinal","title":null,"scale":{"type":"band","domain":[2,3,4,5,6,7,8,9,10,11,12,13,14,15],"paddingInner":0,"paddingOuter":0.1},"axis":{"labelOverlap":false,"labelExpr":"datum.value % 2 === 0 ? datum.label : ''","grid":true,"gridWidth":1,"bandPosition":0.5,"labelAngle":0,"labelPadding":1}}},
       "layer":[
        {"data":{"name":"box"},"transform":[{"filter":"datum.p === 'degcv'"}],"mark":{"type":"rule","color":"#333333","strokeWidth":0.8},"encoding":{"y":{"field":"lo","type":"quantitative","title":null,"scale":{"domain":[-0.05,7.36],"nice":false,"zero":false},"axis":{"tickCount":50,"labelOverlap":false,"format":"d","values":[0,1,2,3,4,5,6,7],"labelExpr":"abs(datum.value/2 - round(datum.value/2)) < 1e-6 ? datum.label : ''","gridWidth":{"condition":{"test":"abs(datum.value/2 - round(datum.value/2)) < 1e-6","value":1},"value":0.5},"tickOpacity":{"condition":{"test":"abs(datum.value/2 - round(datum.value/2)) < 1e-6","value":1},"value":0}}},"y2":{"field":"hi"}}},
        {"data":{"name":"box"},"transform":[{"filter":"datum.p === 'degcv'"}],"mark":{"type":"bar","fill":"#FFFFFF","stroke":"#333333","strokeWidth":0.8,"width":{"band":0.75}},"encoding":{"y":{"field":"q1","type":"quantitative","title":null,"scale":{"domain":[-0.05,7.36],"nice":false,"zero":false}},"y2":{"field":"q3"}}},
        {"data":{"name":"box"},"transform":[{"filter":"datum.p === 'degcv'"}],"mark":{"type":"bar","fillOpacity":0,"stroke":"#333333","strokeWidth":1.5,"width":{"band":0.75}},"encoding":{"y":{"field":"md","type":"quantitative","title":null,"scale":{"domain":[-0.05,7.36],"nice":false,"zero":false}},"y2":{"field":"md"}}},
        {"data":{"name":"out"},"transform":[{"filter":"datum.p === 'degcv'"}],"mark":{"type":"point","filled":true,"size":7,"color":"#333333","opacity":1},"encoding":{"y":{"field":"v","type":"quantitative","title":null,"scale":{"domain":[-0.05,7.36],"nice":false,"zero":false}}}}
       ]}
    ]}
  ]
}]
}
